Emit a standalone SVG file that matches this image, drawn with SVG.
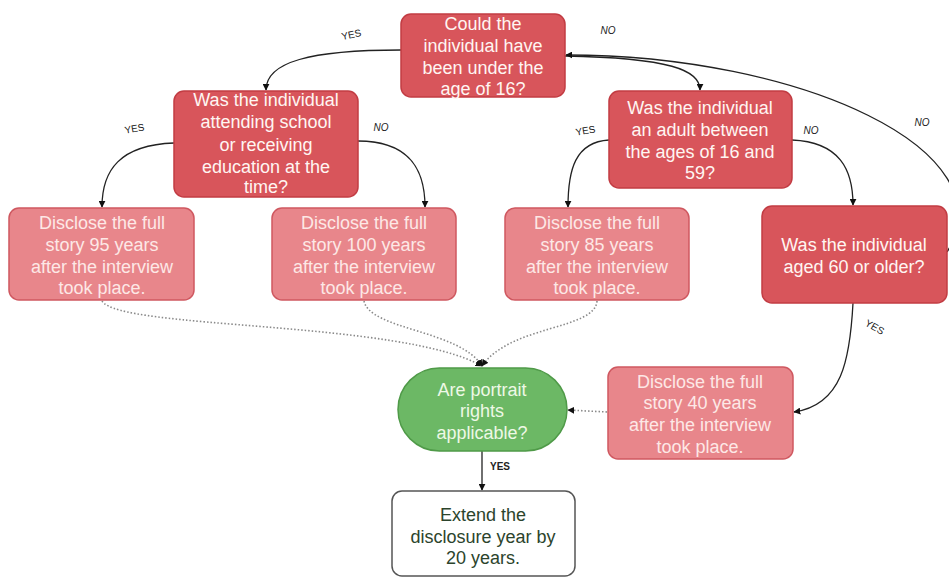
<svg xmlns="http://www.w3.org/2000/svg" width="949" height="577" viewBox="0 0 949 577">
<style>
  text { font-family: "Liberation Sans", Arial, sans-serif; }
  .dark rect { fill: #d8555b; stroke: #c23c43; stroke-width: 1.5; }
  .light rect { fill: #e8868b; stroke: #cf5860; stroke-width: 1.5; }
  .green rect { fill: #6cb865; stroke: #4f9a48; stroke-width: 1.5; }
  .white rect { fill: #ffffff; stroke: #555555; stroke-width: 1.5; }
  .t { font-size: 18px; text-anchor: middle; fill: #fff5f2; }
  .tl { font-size: 18px; text-anchor: middle; fill: #fde8e6; }
  .tg { font-size: 18px; text-anchor: middle; fill: #eef8e6; }
  .tw { font-size: 18px; text-anchor: middle; fill: #2c442c; }
  .c { fill: none; stroke: #222; stroke-width: 1.3; }
  .d { fill: none; stroke: #8a8a8a; stroke-width: 1.6; stroke-dasharray: 1.5 2; }
  .lbl { font-size: 10px; fill: #222; text-anchor: middle; }
  .no { font-style: italic; }
</style>
<defs>
  <marker id="arr" viewBox="0 0 10 10" refX="9" refY="5" markerWidth="7" markerHeight="7" markerUnits="userSpaceOnUse" orient="auto">
    <path d="M0,0 L10,5 L0,10 z" fill="#111"/>
  </marker>
</defs>
<rect width="949" height="577" fill="#ffffff"/>

<g id="connectors">
  <path class="c" d="M401,50 C 310,50 266,62 266,90" marker-end="url(#arr)"/>
  <path class="c" d="M565,56 C 670,58 700,70 700,90" marker-end="url(#arr)"/>
  <path class="c" d="M947,252 C 1010,150 800,55 566,55" marker-end="url(#arr)"/>
  <path class="c" d="M174,143 C 120,145 102,170 102,207" marker-end="url(#arr)"/>
  <path class="c" d="M358,141 C 410,141 425,170 425,207" marker-end="url(#arr)"/>
  <path class="c" d="M609,140 C 575,142 568,170 568,207" marker-end="url(#arr)"/>
  <path class="c" d="M792,140 C 840,142 853,170 853,205" marker-end="url(#arr)"/>
  <path class="c" d="M853,303 C 850,360 842,405 794,412" marker-end="url(#arr)"/>
  <path class="c" d="M482,451 L482,490" marker-end="url(#arr)"/>
  <path class="d" d="M102,301 C 120,330 400,320 482,366" marker-end="url(#arr)"/>
  <path class="d" d="M364,301 C 370,330 460,330 482,366" marker-end="url(#arr)"/>
  <path class="d" d="M597,301 C 595,330 510,325 482,366" marker-end="url(#arr)"/>
  <path class="d" d="M607,412 L568,410" marker-end="url(#arr)"/>
  <text class="lbl" transform="translate(352,38) rotate(-12)">YES</text>
  <text class="lbl no" x="608" y="34">NO</text>
  <text class="lbl" transform="translate(135,132) rotate(-10)">YES</text>
  <text class="lbl no" x="381" y="131">NO</text>
  <text class="lbl" transform="translate(586,134) rotate(-10)">YES</text>
  <text class="lbl no" x="811" y="134">NO</text>
  <text class="lbl no" x="922" y="126">NO</text>
  <text class="lbl" transform="translate(873,330) rotate(30)">YES</text>
  <text class="lbl" x="500" y="470" font-weight="bold">YES</text>
</g>

<g id="n-under16" class="dark">
  <rect x="401" y="14" width="164" height="83" rx="10"/>
  <text class="t" x="483" y="30">Could the</text>
  <text class="t" x="483" y="52">individual have</text>
  <text class="t" x="483" y="74">been under the</text>
  <text class="t" x="483" y="95">age of 16?</text>
</g>

<g id="n-school" class="dark">
  <rect x="174" y="91" width="184" height="106" rx="10"/>
  <text class="t" x="266" y="106">Was the individual</text>
  <text class="t" x="266" y="128">attending school</text>
  <text class="t" x="266" y="151">or receiving</text>
  <text class="t" x="266" y="173">education at the</text>
  <text class="t" x="266" y="193">time?</text>
</g>

<g id="n-adult" class="dark">
  <rect x="609" y="91" width="183" height="97" rx="10"/>
  <text class="t" x="700" y="114">Was the individual</text>
  <text class="t" x="700" y="136">an adult between</text>
  <text class="t" x="700" y="158">the ages of 16 and</text>
  <text class="t" x="700" y="179">59?</text>
</g>

<g id="n-95" class="light">
  <rect x="9" y="208" width="185" height="92" rx="10"/>
  <text class="tl" x="102" y="229">Disclose the full</text>
  <text class="tl" x="102" y="251">story 95 years</text>
  <text class="tl" x="102" y="273">after the interview</text>
  <text class="tl" x="102" y="294">took place.</text>
</g>

<g id="n-100" class="light">
  <rect x="272" y="208" width="184" height="92" rx="10"/>
  <text class="tl" x="364" y="229">Disclose the full</text>
  <text class="tl" x="364" y="251">story 100 years</text>
  <text class="tl" x="364" y="273">after the interview</text>
  <text class="tl" x="364" y="294">took place.</text>
</g>

<g id="n-85" class="light">
  <rect x="505" y="208" width="184" height="92" rx="10"/>
  <text class="tl" x="597" y="229">Disclose the full</text>
  <text class="tl" x="597" y="251">story 85 years</text>
  <text class="tl" x="597" y="273">after the interview</text>
  <text class="tl" x="597" y="294">took place.</text>
</g>

<g id="n-60" class="dark">
  <rect x="762" y="206" width="185" height="97" rx="10"/>
  <text class="t" x="854" y="251">Was the individual</text>
  <text class="t" x="854" y="273">aged 60 or older?</text>
</g>

<g id="n-40" class="light">
  <rect x="608" y="367" width="185" height="92" rx="10"/>
  <text class="tl" x="700" y="388">Disclose the full</text>
  <text class="tl" x="700" y="409">story 40 years</text>
  <text class="tl" x="700" y="431">after the interview</text>
  <text class="tl" x="700" y="453">took place.</text>
</g>

<g id="n-portrait" class="green">
  <rect x="398" y="368" width="169" height="83" rx="41.5"/>
  <text class="tg" x="482" y="396">Are portrait</text>
  <text class="tg" x="482" y="417">rights</text>
  <text class="tg" x="482" y="439">applicable?</text>
</g>

<g id="n-extend" class="white">
  <rect x="392" y="491" width="183" height="85" rx="10"/>
  <text class="tw" x="483" y="521">Extend the</text>
  <text class="tw" x="483" y="543">disclosure year by</text>
  <text class="tw" x="483" y="564">20 years.</text>
</g>
</svg>
